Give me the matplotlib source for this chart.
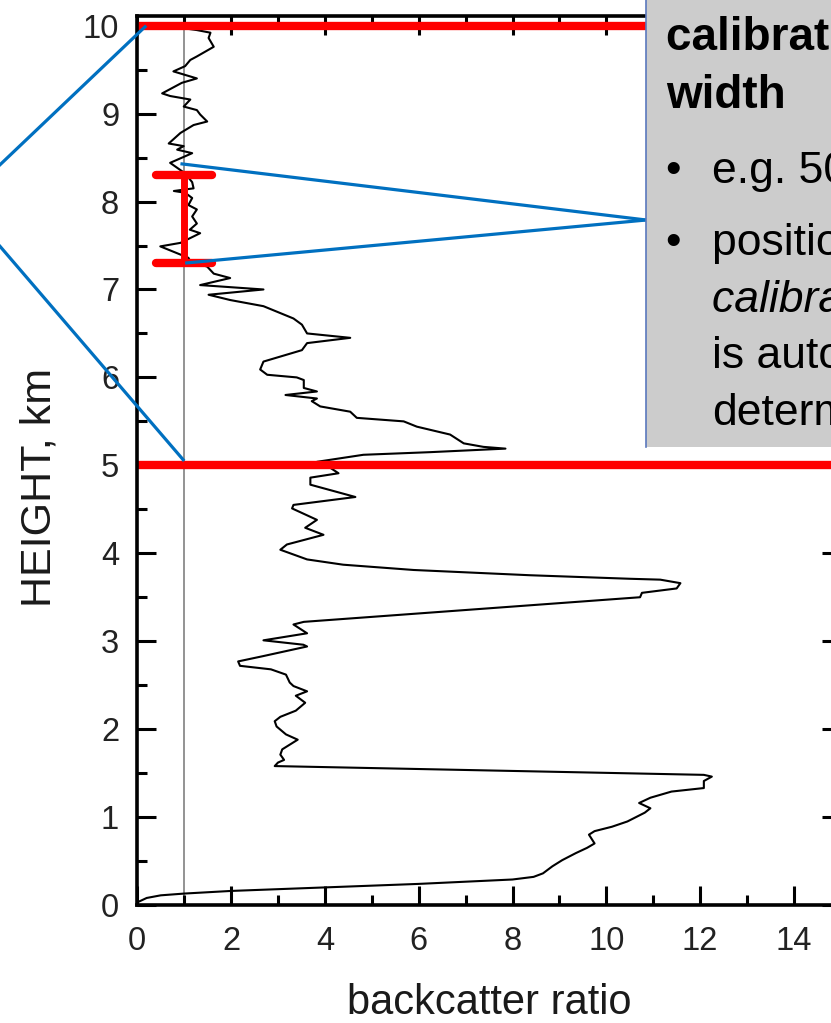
"""
Backscatter ratio profile with calibration range annotation.
"""

import matplotlib
matplotlib.use("Agg")
import matplotlib.pyplot as plt
from matplotlib.patches import Rectangle
from matplotlib.lines import Line2D
from matplotlib.ticker import MultipleLocator

plt.rcParams['font.family'] = ['Liberation Sans', 'DejaVu Sans']

# --- profile (bottom -> top) ---
height_km = [0.03, 0.08, 0.11, 0.13, 0.16, 0.20, 0.24, 0.29, 0.32, 0.36,
             0.44, 0.51, 0.59, 0.65, 0.70, 0.80, 0.84, 0.89, 0.95, 1.05,
             1.10, 1.16, 1.22, 1.29, 1.33, 1.41, 1.46, 1.48, 1.58, 1.62,
             1.65, 1.71, 1.77, 1.88, 1.94, 2.03, 2.09, 2.14, 2.21, 2.30,
             2.38, 2.43, 2.49, 2.53, 2.62, 2.68, 2.72, 2.77, 2.83, 2.94,
             2.96, 3.01, 3.09, 3.19, 3.22, 3.50, 3.55, 3.60, 3.66, 3.70,
             3.71, 3.75, 3.81, 3.87, 3.93, 4.04, 4.10, 4.21, 4.29, 4.38,
             4.51, 4.55, 4.64, 4.78, 4.86, 4.91, 4.97, 5.04, 5.12, 5.15,
             5.19, 5.21, 5.25, 5.35, 5.44, 5.50, 5.54, 5.61, 5.67, 5.73,
             5.76, 5.80, 5.84, 5.88, 5.97, 6.00, 6.03, 6.09, 6.18, 6.26,
             6.31, 6.39, 6.45, 6.50, 6.60, 6.67, 6.81, 6.88, 6.94, 7.00,
             7.05, 7.13, 7.18, 7.26, 7.32, 7.36, 7.49, 7.53, 7.64, 7.68,
             7.75, 7.83, 7.91, 7.96, 8.04, 8.10, 8.12, 8.15, 8.22, 8.32,
             8.44, 8.55, 8.59, 8.63, 8.66, 8.78, 8.87, 8.91, 8.99, 9.04,
             9.08, 9.16, 9.20, 9.23, 9.35, 9.40, 9.48, 9.54, 9.61, 9.65,
             9.76, 9.86, 9.92, 9.95, 9.97]
ratio = [0.00, 0.20, 0.50, 1.00, 2.00, 4.00, 6.00, 8.00, 8.45, 8.65,
         8.85, 9.06, 9.35, 9.59, 9.75, 9.63, 9.75, 10.12, 10.45, 10.82,
         10.94, 10.70, 10.94, 11.39, 12.08, 12.08, 12.25, 12.08, 2.93, 3.00,
         3.13, 3.05, 3.09, 3.42, 3.17, 2.97, 2.93, 3.05, 3.38, 3.58,
         3.38, 3.62, 3.33, 3.25, 3.17, 2.85, 2.19, 2.15, 2.68, 3.62,
         3.54, 2.69, 3.62, 3.33, 3.55, 10.72, 10.76, 11.50, 11.58, 11.15,
         10.50, 8.38, 5.89, 4.39, 3.62, 3.05, 3.19, 3.97, 3.58, 3.83,
         3.30, 3.33, 4.65, 3.69, 3.69, 4.29, 4.12, 3.83, 4.82, 6.25,
         7.85, 7.38, 6.96, 6.67, 5.96, 5.68, 4.68, 4.54, 3.90, 3.72,
         3.83, 3.16, 3.83, 3.55, 3.55, 3.40, 2.77, 2.62, 2.69, 3.19,
         3.51, 3.62, 4.54, 3.62, 3.51, 3.33, 2.69, 1.98, 1.52, 2.69,
         1.34, 1.98, 1.63, 1.49, 1.13, 1.09, 0.49, 0.92, 1.34, 1.12,
         1.27, 1.17, 1.27, 1.09, 1.17, 1.02, 0.78, 1.20, 1.17, 1.02,
         0.70, 1.17, 0.85, 0.99, 0.67, 0.92, 1.20, 1.49, 1.34, 1.27,
         0.99, 1.13, 0.70, 0.53, 0.95, 1.27, 0.77, 1.02, 1.13, 1.27,
         1.63, 1.52, 1.56, 1.27, 1.00]

reference_ratio = 1.0             # molecular reference (gray line)
window_bounds_km = [5.0, 10.0]    # red horizontal lines
calib_range_km = [7.3, 8.3]       # red I-bar
calib_cap_span = [0.4, 1.6]       # width of the I-bar caps

# blue connector lines, data coords (start, end)
zoom_upper = ([-3.2, 0.19], [8.28, 10.0])
zoom_lower = ([-3.2, 1.0], [7.66, 5.05])
callout_upper = ([0.92, 10.85], [8.43, 7.79])
callout_lower = ([1.02, 10.85], [7.30, 7.79])

box_heading = ['calibration range', 'width']
box_bullets = ['e.g. 500 m', 'position of']
box_more = [('calibration range', 'italic'), ('is automatically', 'normal'),
            ('determined', 'normal')]

W, H = 831, 1023
fig = plt.figure(figsize=(W / 100, H / 100), dpi=100)
ax = fig.add_axes([137.3 / W, 118 / H, 703.5 / W, 889 / H])

ax.axvline(reference_ratio, color='#808080', lw=1.2, zorder=1.5)
ax.plot(ratio, height_km, color='black', lw=1.5, zorder=2.0)
for yb in window_bounds_km:
    ax.axhline(yb, color='red', lw=6, zorder=2.2)

# calibration range bar
ax.vlines(reference_ratio, calib_range_km[0], calib_range_km[1],
          color='red', lw=5, zorder=2.3)
ax.hlines(calib_range_km, calib_cap_span[0], calib_cap_span[1],
          color='red', lw=6, zorder=2.3, capstyle='round')

blue = '#0070C0'
for xs, ys in (zoom_upper, zoom_lower, callout_upper, callout_lower):
    ax.plot(xs, ys, color=blue, lw=2.3, zorder=3, clip_on=False,
            solid_capstyle='butt')

ax.set_xlim(0, 15)
ax.set_ylim(0, 10.11)
ax.xaxis.set_major_locator(MultipleLocator(2))
ax.xaxis.set_minor_locator(MultipleLocator(1))
ax.yaxis.set_major_locator(MultipleLocator(1))
ax.yaxis.set_minor_locator(MultipleLocator(0.5))
ax.tick_params(which='both', direction='in', top=True, right=True,
               width=2.2, labelcolor='#222222')
ax.tick_params(which='major', length=13.5, labelsize=23.5)
ax.tick_params(which='minor', length=7.5)
ax.tick_params(axis='x', which='major', pad=15)
ax.tick_params(axis='y', which='major', pad=13)
for s in ax.spines.values():
    s.set_linewidth(2.6)

ax.set_xlabel('backcatter ratio', fontsize=30, color='#1a1a1a')
ax.xaxis.set_label_coords(0.5, -0.088)
ax.set_ylabel('HEIGHT, km', fontsize=31, color='#1a1a1a')
ax.yaxis.set_label_coords(-0.11, 0.47)

# gray text box (cut at the right edge)
bx, by = 646 / W, 1 - 447 / H
fig.add_artist(Rectangle((bx, by), 0.4, 0.5, transform=fig.transFigure,
                         facecolor='#cccccc', edgecolor='none', zorder=10))
fig.add_artist(Line2D([bx, bx], [by, 1.0], transform=fig.transFigure,
                      color='#5a78bd', lw=1.2, zorder=10.5))

tx = 666 / W
for line, base in zip(box_heading, [50, 108]):
    fig.text(tx, 1 - base / H, line, fontsize=33, fontweight='bold',
             va='baseline', ha='left', zorder=11)
for line, base in zip(box_bullets, [183, 255]):
    fig.text(673 / W, 1 - base / H, '\u2022', fontsize=32, va='baseline',
             ha='center', zorder=11)
    fig.text(712 / W, 1 - base / H, line, fontsize=32, va='baseline',
             ha='left', zorder=11)
for (line, style), base in zip(box_more, [312, 368, 425]):
    fig.text(712 / W, 1 - base / H, line, fontsize=32, style=style,
             va='baseline', ha='left', zorder=11)

fig.savefig('out.png', dpi=100)
plt.close(fig)
